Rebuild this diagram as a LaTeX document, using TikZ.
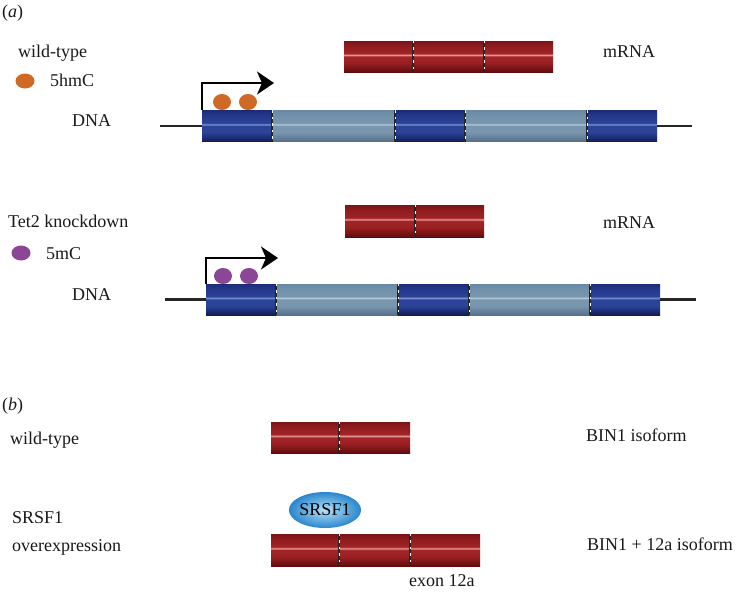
\documentclass[tikz,border=0pt]{standalone}
\usepackage{fontspec}
\setmainfont{Liberation Serif}
\usetikzlibrary{shapes.geometric,arrows.meta}
\definecolor{rT}{HTML}{7A1417}
\definecolor{rT2}{HTML}{8E1B1E}
\definecolor{rM}{HTML}{A32426}
\definecolor{rH}{HTML}{E39A98}
\definecolor{rM2}{HTML}{9A2022}
\definecolor{rB}{HTML}{620B0E}
\definecolor{bT}{HTML}{1C2C78}
\definecolor{bT2}{HTML}{23378A}
\definecolor{bM}{HTML}{2B4398}
\definecolor{bH}{HTML}{7E92D2}
\definecolor{bB}{HTML}{121C58}
\definecolor{lT}{HTML}{6A88A2}
\definecolor{lT2}{HTML}{7090AA}
\definecolor{lM}{HTML}{7896AE}
\definecolor{lH}{HTML}{B4C8DA}
\definecolor{lB}{HTML}{56708A}
\definecolor{dotor}{HTML}{CF6A26}
\definecolor{dotpu}{HTML}{8B4696}
\definecolor{srin}{HTML}{B4E2FA}
\definecolor{srout}{HTML}{2A86CC}
\pgfdeclareverticalshading{redbar}{100bp}{color(0bp)=(rB); color(25bp)=(rB); color(40bp)=(rM2); color(50bp)=(rM); color(52.5bp)=(rH); color(55bp)=(rM); color(68bp)=(rT2); color(75bp)=(rT); color(100bp)=(rT)}
\pgfdeclareverticalshading{bluebar}{100bp}{color(0bp)=(bB); color(25bp)=(bB); color(40bp)=(bM); color(50bp)=(bM); color(52.5bp)=(bH); color(55bp)=(bM); color(68bp)=(bT2); color(75bp)=(bT); color(100bp)=(bT)}
\pgfdeclareverticalshading{lightbar}{100bp}{color(0bp)=(lB); color(25bp)=(lB); color(40bp)=(lM); color(50bp)=(lM); color(52.5bp)=(lH); color(55bp)=(lM); color(68bp)=(lT2); color(75bp)=(lT); color(100bp)=(lT)}
\newcommand\segdiv[1]{%
  \draw[divb] (#1.north east) -- (#1.south east);
  \draw[divw] (#1.north east) -- (#1.south east);}
\begin{document}
\begin{tikzpicture}[x=1pt,y=-1pt,
  txt/.style={font=\fontsize{18}{21}\selectfont, anchor=base west, inner sep=0pt, text=black!90},
  seg/.style={rectangle, inner sep=0pt, minimum height=31pt},
  redseg/.style={seg, shading=redbar},
  blueseg/.style={seg, shading=bluebar},
  lightseg/.style={seg, shading=lightbar},
  divb/.style={line width=2.2pt, black!85},
  divw/.style={line width=1pt, white, dash pattern=on 2.5pt off 4pt},
  dnaline/.style={line width=2.2pt, black!85},
  prom/.style={line width=2.2pt, black, -{Stealth[length=17pt,width=23pt,inset=5pt]}},
  dot/.style={ellipse, inner sep=0pt, minimum width=18pt, minimum height=16pt},
  hmc/.style={dot, fill=dotor},
  mc/.style={dot, fill=dotpu},
]
\fill[white] (0,0) rectangle (736,592);
\path[use as bounding box] (0,0) rectangle (736,592);

% ---------- panel (a), wild-type ----------
\node[txt] (la) at (2,17) {(\textit{a})};
\node[txt] (wt1) at (18,57) {wild-type};
\node[hmc, minimum width=19pt, minimum height=15pt] (leg1) at (25,81) {};
\node[txt] (l5hmc) at (50,86) {5hmC};
\node[txt] (dna1) at (72,126) {DNA};

\coordinate (d1l) at (160,126);
\coordinate (d1r) at (692,126);
\node[blueseg,  minimum width=70pt]  (w1) at (237,126) {};
\node[lightseg, minimum width=123pt] (w2) at (333.5,126) {};
\node[blueseg,  minimum width=70pt]  (w3) at (430,126) {};
\node[lightseg, minimum width=122pt] (w4) at (526,126) {};
\node[blueseg,  minimum width=70pt]  (w5) at (622,126) {};
\draw[dnaline] (d1l) -- (w1.west);
\draw[dnaline] (w5.east) -- (d1r);
\segdiv{w1}\segdiv{w2}\segdiv{w3}\segdiv{w4}
\coordinate (tss1) at (274,83);
\draw[prom] (w1.north west) |- (tss1);
\node[hmc] (h1) at (222,102) {};
\node[hmc] (h2) at (248,102) {};

\node[redseg, minimum width=69pt] (m1) at (378.5,56.5) {};
\node[redseg, minimum width=71pt] (m2) at (448.5,56.5) {};
\node[redseg, minimum width=69pt] (m3) at (518.5,56.5) {};
\segdiv{m1}\segdiv{m2}
\node[txt] (mrna1) at (603,57) {mRNA};

% ---------- panel (a), Tet2 knockdown ----------
\node[txt] (tet) at (8,227) {Tet2 knockdown};
\node[mc, minimum width=19pt, minimum height=15pt] (leg2) at (21,253) {};
\node[txt] (l5mc) at (46,259) {5mC};
\node[txt] (dna2) at (72,300) {DNA};

\coordinate (d2l) at (165,299.5);
\coordinate (d2r) at (696,299.5);
\node[blueseg,  minimum width=70pt]  (k1) at (241,299.5) {};
\node[lightseg, minimum width=122pt] (k2) at (337,299.5) {};
\node[blueseg,  minimum width=71pt]  (k3) at (433.5,299.5) {};
\node[lightseg, minimum width=121pt] (k4) at (529.5,299.5) {};
\node[blueseg,  minimum width=70pt]  (k5) at (625,299.5) {};
\draw[dnaline] (d2l) -- (k1.west);
\draw[dnaline] (k5.east) -- (d2r);
\segdiv{k1}\segdiv{k2}\segdiv{k3}\segdiv{k4}
\coordinate (tss2) at (278,258);
\draw[prom] (k1.north west) |- (tss2);
\node[mc] (p1) at (223,276) {};
\node[mc] (p2) at (249,276) {};

\node[redseg, minimum width=70pt, minimum height=32pt] (n1) at (380,221) {};
\node[redseg, minimum width=69pt, minimum height=32pt] (n2) at (449.5,221) {};
\segdiv{n1}
\node[txt] (mrna2) at (603,228) {mRNA};

% ---------- panel (b) ----------
\node[txt] (lb) at (2,410) {(\textit{b})};
\node[txt] (wt2) at (10,444) {wild-type};
\node[redseg, minimum width=68pt] (b1) at (305,437.5) {};
\node[redseg, minimum width=71pt] (b2) at (374.5,437.5) {};
\segdiv{b1}
\node[txt] (iso1) at (586,441) {BIN1 isoform};

\node[txt] (srl) at (12,523) {SRSF1};
\node[txt] (ovx) at (12,551) {overexpression};
\node[ellipse, inner sep=0pt, minimum width=70pt, minimum height=36pt,
      inner color=srin, outer color=srout, font=\fontsize{18}{21}\selectfont] (sr) at (325,510) {SRSF1};
\node[redseg, minimum width=68pt, minimum height=32pt] (c1) at (305,550) {};
\node[redseg, minimum width=71pt, minimum height=32pt] (c2) at (374.5,550) {};
\node[redseg, minimum width=70pt, minimum height=32pt] (c3) at (445,550) {};
\segdiv{c1}\segdiv{c2}
\node[txt] (ex) at (409,586) {exon 12a};
\node[txt] (iso2) at (587,550) {BIN1 + 12a isoform};
\end{tikzpicture}
\end{document}
